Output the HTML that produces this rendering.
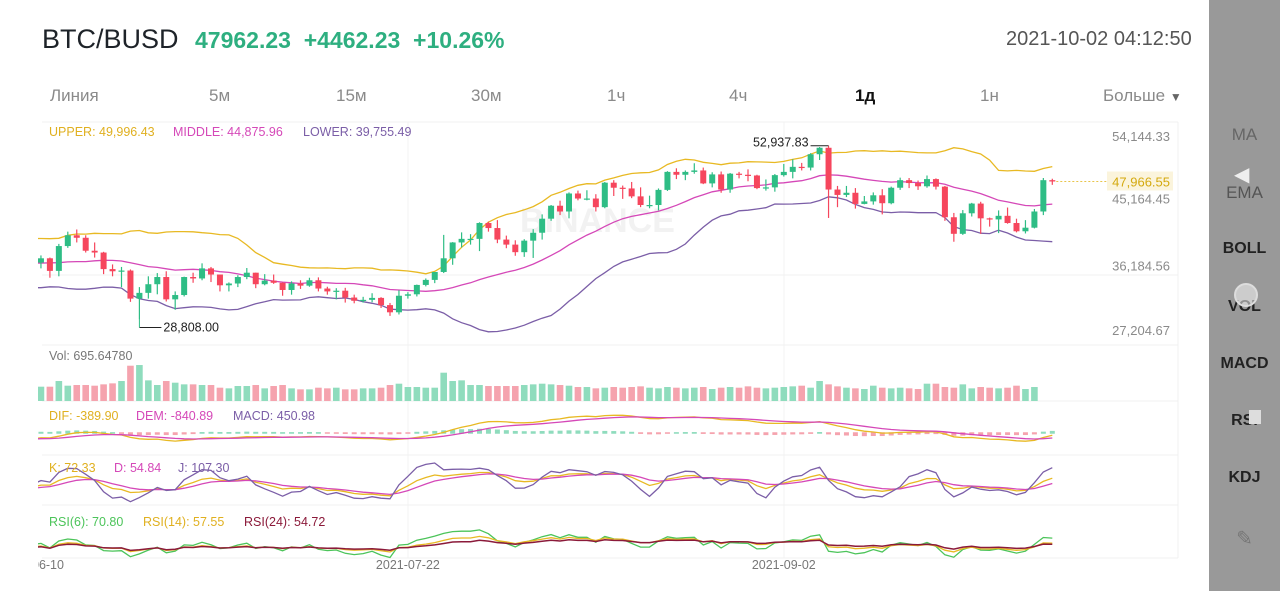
<!DOCTYPE html>
<html><head><meta charset="utf-8">
<style>
body{margin:0;width:1280px;height:591px;overflow:hidden;background:#fff;font-family:"Liberation Sans",sans-serif;position:relative}
.abs{position:absolute;white-space:nowrap}
.tab{position:absolute;top:86px;font-size:17px;color:#8a8a8a}
.side{position:absolute;left:1209px;top:0;width:71px;height:591px;background:#999}
.sl{position:absolute;width:71px;text-align:center;font-size:16px;color:#222;font-weight:bold}
</style></head><body>
<div class="abs" style="left:42px;top:24px;font-size:27px;color:#1e2329">BTC/BUSD</div>
<div class="abs" style="left:195px;top:27px;font-size:23px;color:#2eaf80;font-weight:bold">47962.23&nbsp; +4462.23&nbsp; +10.26%</div>
<div class="abs" style="left:1006px;top:28px;font-size:20px;color:#555">2021-10-02 04:12:50</div>
<svg class="abs" style="left:1218px;top:24px" width="28" height="28"><path d="M4 24 L11 17 M11 17 L5 17 M11 17 L11 23 M24 4 L17 11 M17 11 L23 11 M17 11 L17 5" stroke="#666" stroke-width="2" fill="none"/></svg>
<div class="tab" style="left:50px">Линия</div>
<div class="tab" style="left:209px">5м</div>
<div class="tab" style="left:336px">15м</div>
<div class="tab" style="left:471px">30м</div>
<div class="tab" style="left:607px">1ч</div>
<div class="tab" style="left:729px">4ч</div>
<div class="tab" style="left:855px;color:#111;font-weight:bold">1д</div>
<div class="tab" style="left:980px">1н</div>
<div class="tab" style="left:1103px">Больше <span style="font-size:12px;color:#666">▼</span></div>

<svg id="chart" class="abs" style="left:0;top:0" width="1209" height="591"></svg>

<div class="side">
<div class="sl" style="top:125px;color:#666;font-weight:normal;font-size:17px">MA</div>
<div class="abs" style="left:25px;top:162px;color:#eee;font-size:20px">◀</div>
<div class="sl" style="top:183px;color:#555;font-weight:normal;font-size:17px">EMA</div>
<div class="sl" style="top:240px">BOLL</div>
<div class="sl" style="top:298px">VOL</div>
<div class="abs" style="left:25px;top:283px;width:20px;height:20px;border-radius:50%;border:2px solid #ddd;background:rgba(255,255,255,.5)"></div>
<div class="sl" style="top:355px">MACD</div>
<div class="sl" style="top:412px">RSI</div>
<div class="abs" style="left:40px;top:410px;width:12px;height:14px;background:#ddd"></div>
<div class="sl" style="top:469px">KDJ</div>
<div class="sl" style="top:526px;color:#777;font-weight:normal;font-size:20px">✎</div>
</div>

<script>
const prior=[40600,37300,37500,34700,38700,38400,39300,38450,35700,34600,35650,37300,36700,37550,39200,36850,35500,35800,33550,33400,37350];
const closes=[36700,37300,35550,39000,40500,40150,38350,38100,35800,35500,35600,31700,32500,33700,34700,31600,32200,34700,34500,35900,35050,
33550,33800,34700,35300,33700,34200,33900,32900,33800,33500,34250,33100,32700,32800,31850,31400,31530,31800,30800,29800,32100,32300,33600,34300,35400,37300,39500,40000,40000,42200,41500,
39900,39200,38150,39750,40850,42800,44600,43800,46300,45600,45600,44400,47800,47100,47000,45900,44700,44700,46800,49300,48900,49300,49500,47700,48950,46850,49050,48900,48800,47050,47150,
48850,49300,50000,49900,51750,52650,46850,46100,46400,44850,45200,46050,44950,47100,48150,47750,47300,48300,47250,43000,40700,43550,44900,42850,42700,43200,42200,41050,41550,43800,
48150,47966];
const highs=[38400,37700,37400,39300,41000,41300,40500,39500,38200,36450,36100,35750,33300,34800,35250,35500,32700,34750,35300,36600,36100,
35050,33950,34950,35950,35300,35100,35050,33950,34100,34250,34600,34650,33350,33150,33200,32250,31950,32450,31900,31100,32850,32600,33650,34500,35400,40550,39550,40900,40650,42300,42400,
42600,40450,39800,39950,41350,43400,44700,45300,46450,46700,46750,46200,47900,48150,47400,47900,47150,46000,47000,49400,49800,49500,50500,49900,49250,49350,49150,49300,49650,48900,48250,
49000,50400,51050,50550,51900,52750,52937.83,47350,47350,47050,45950,46450,46900,47250,48500,48450,48100,48800,48400,47350,43600,44000,45000,45150,42950,43950,44350,42800,42600,44150,
48450,48350];
const lows=[35800,35900,34600,34800,38750,39500,38100,37400,35100,34800,33300,31250,28808,31700,32300,31300,30150,32000,33900,34250,34000,
32700,32700,33300,34400,33150,33550,33750,32100,32250,33050,33350,32700,32250,31600,31150,31050,31150,31200,30400,29300,29500,31700,32000,33400,33850,35250,36400,38800,39200,38300,41000,
39400,38700,37650,37500,37350,39900,42500,43300,42850,45350,45350,43800,44250,45950,45550,45650,44400,44250,43950,46650,48300,48150,49050,47600,47150,46400,46400,48400,48000,46900,46700,
46550,48650,48400,49500,49500,50950,42900,44400,45800,44200,44800,44750,43400,44800,46800,47050,46800,47100,46850,42500,39600,40550,43100,40700,41700,40800,42100,40900,40750,41450,
43300,47500];
const volumes=[45,43,43,60,46,48,48,46,50,53,60,106,108,62,48,60,55,50,50,48,48,40,38,45,45,48,38,45,48,38,35,35,40,38,40,35,35,38,38,40,48,52,42,42,40,40,85,60,62,48,48,
45,45,45,45,48,50,52,50,48,46,42,42,38,40,42,40,42,44,40,38,42,40,38,40,42,36,40,42,40,44,40,38,40,42,44,46,40,60,50,44,40,38,36,46,40,38,40,38,36,52,52,42,40,50,38,42,40,38,40,46,36,42];
const priceTicks=[54144.33,36184.56,27204.67];
const dateTicks=[{i:0,t:"2021-06-10"},{i:42,t:"2021-07-22"},{i:84,t:"2021-09-02"}];

const svg=document.getElementById('chart');
const NS='http://www.w3.org/2000/svg';
function mk(tag,attrs,parent){const e=document.createElementNS(NS,tag);for(const k in attrs)e.setAttribute(k,attrs[k]);(parent||svg).appendChild(e);return e;}
const X=i=>32+i*8.95;
const Y=p=>137+(54144.33-p)/138.87;
const GREEN='#2ebd85',RED='#f6465d';
const defs=mk('defs',{});const cp=mk('clipPath',{id:'cp'},defs);mk('rect',{x:38,y:115,width:1140,height:450},cp);

[122,275,345,401,455,505,558].forEach(y=>{const l=mk('line',{x1:42,x2:1178,y1:y,y2:y,stroke:'#f0f0f0'});});
[408,784].forEach(x=>{const l=mk('line',{x1:x,x2:x,y1:122,y2:558,stroke:'#f3f3f3'});});
mk('line',{x1:1178,x2:1178,y1:122,y2:558,stroke:'#f0f0f0'});
const wm=mk('text',{x:520,y:232,'font-size':34,'font-weight':'bold',fill:'#f2f2f2'});wm.textContent='BINANCE';


const g=mk('g',{'clip-path':'url(#cp)'});
const all=prior.concat(closes);const P=prior.length;
const up=[],mid=[],lo=[];
for(let j=19;j<all.length;j++){const s=all.slice(j-19,j+1);const m=s.reduce((a,b)=>a+b)/20;const sd=Math.sqrt(s.reduce((a,b)=>a+(b-m)*(b-m),0)/20);up[j]=m+2*sd;mid[j]=m;lo[j]=m-2*sd;}
function line(arr,yf,color,name,w){let d='';for(let j=0;j<all.length;j++){if(arr[j]===undefined)continue;const i=j-P;d+=(d?'L':'M')+X(i).toFixed(1)+' '+yf(arr[j]).toFixed(1);}const p=mk('path',{d:d,fill:'none',stroke:color,'stroke-width':w||1.3},g);}
line(up,Y,'#e8b923','boll-upper');line(mid,Y,'#d548b8','boll-middle');line(lo,Y,'#7b5ea7','boll-lower');
for(let i=0;i<closes.length;i++){const o=i==0?prior[P-1]:closes[i-1];const c=closes[i];const col=c>=o?GREEN:RED;
const w=mk('line',{x1:X(i),x2:X(i),y1:Y(highs[i]),y2:Y(lows[i]),stroke:col,'stroke-width':1.2},g);
const top=Y(Math.max(o,c)),h=Math.max(1.2,Math.abs(Y(o)-Y(c)));
const r=mk('rect',{x:X(i)-3,y:top,width:6,height:h,fill:col},g);
const vb=mk('rect',{x:X(i)-3.3,y:401-volumes[i]*0.333,width:6.6,height:volumes[i]*0.333,fill:c>=o?'#8fdcbd':'#f5a3ae'},g);}
function ema(arr,n){const k=2/(n+1);const r=[arr[0]];for(let j=1;j<arr.length;j++)r.push(arr[j]*k+r[j-1]*(1-k));return r;}
const e12=ema(all,12),e26=ema(all,26);const dif=all.map((_,j)=>e12[j]-e26[j]);const dea=ema(dif,9);
const MY=v=>433-v*0.006;
for(let j=P;j<all.length;j++){const m=(dif[j]-dea[j])*2;const hh=Math.min(4,Math.abs(m)*0.0015)+1.5;const b=mk('rect',{x:X(j-P)-2.5,y:m>=0?433-hh+0.75:432.25,width:5,height:hh,fill:m>=0?'#8fdcbd':'#f5a3ae'},g);}
const difv=dif.map((v,j)=>j<P-5?undefined:v),deav=dea.map((v,j)=>j<P-5?undefined:v);
line(difv,MY,'#e8b923','macd-dif');line(deav,MY,'#d548b8','macd-dea');
const K=[],D=[],J=[];let k=50,d=50;
for(let j=0;j<all.length;j++){let hh=-1e9,ll=1e9;for(let t=Math.max(0,j-8);t<=j;t++){const hv=t>=P?highs[t-P]:all[t]*1.02,lv=t>=P?lows[t-P]:all[t]*0.98;hh=Math.max(hh,hv);ll=Math.min(ll,lv);}
const rsv=hh>ll?(all[j]-ll)/(hh-ll)*100:50;k=2/3*k+rsv/3;d=2/3*d+k/3;K.push(j<P-5?undefined:k);D.push(j<P-5?undefined:d);J.push(j<P-5?undefined:3*k-2*d);}
const KY=v=>500-v*0.3;
line(K,KY,'#e8b923','kdj-k');line(D,KY,'#d548b8','kdj-d');line(J,KY,'#7b5ea7','kdj-j');
function rsi(n){const r=[];let ag=0,al=0;for(let j=1;j<all.length;j++){const ch=all[j]-all[j-1];const gn=Math.max(ch,0),ls=Math.max(-ch,0);ag=(ag*(n-1)+gn)/n;al=(al*(n-1)+ls)/n;r[j]=j<P-5?undefined:(al==0?100:100-100/(1+ag/al));}return r;}
const RY=v=>565-v*0.38;
line(rsi(6),RY,'#4cc45a','rsi-6');line(rsi(14),RY,'#e8b923','rsi-14');line(rsi(24),RY,'#8b1a3a','rsi-24',1.5);

function txt(x,y,s,fill,size,name,anchor){const t=mk('text',{x:x,y:y,fill:fill,'font-size':size,'text-anchor':anchor||'start'});t.textContent=s;return t;}
txt(49,136,'UPPER: 49,996.43','#e0b020',12.5,'boll-upper-legend');txt(173,136,'MIDDLE: 44,875.96','#d548b8',12.5,'boll-middle-legend');txt(303,136,'LOWER: 39,755.49','#7b5ea7',12.5,'boll-lower-legend');
txt(49,360,'Vol: 695.64780','#777',12.5,'vol-legend');
txt(49,420,'DIF: -389.90','#e0b020',12.5,'dif-legend');txt(136,420,'DEM: -840.89','#d548b8',12.5,'dem-legend');txt(233,420,'MACD: 450.98','#7b5ea7',12.5,'macd-legend');
txt(49,472,'K: 72.33','#e0b020',12.5,'k-legend');txt(114,472,'D: 54.84','#d548b8',12.5,'d-legend');txt(178,472,'J: 107.30','#7b5ea7',12.5,'j-legend');
txt(49,526,'RSI(6): 70.80','#4cc45a',12.5,'rsi6-legend');txt(143,526,'RSI(14): 57.55','#e0b020',12.5,'rsi14-legend');txt(244,526,'RSI(24): 54.72','#8b1a3a',12.5,'rsi24-legend');
priceTicks.forEach(p=>txt(1170,Y(p)+4,p.toLocaleString('en-US',{minimumFractionDigits:2}),'#8a8a8a',13,'price-tick','end'));
txt(1170,Y(45164.45)+2,'45,164.45','#8a8a8a',13,'price-tick','end');
const last=closes[closes.length-1];
mk('line',{x1:X(closes.length-1)+4,x2:1108,y1:Y(last),y2:Y(last),stroke:'#e8c44a','stroke-dasharray':'2,2'});
const lb=mk('rect',{x:1107,y:Y(last)-10,width:66,height:19,fill:'#fbf4dc'});
txt(1170,Y(last)+5,'47,966.55','#d4a90e',13,'last-price-label','end');
dateTicks.forEach(t=>txt(X(t.i),569,t.t,'#777',12.5,'date-tick','middle'));
mk('rect',{x:0,y:558,width:38,height:20,fill:'#fff'});
let hi=0,li=0;highs.forEach((v,i)=>{if(v>highs[hi])hi=i;});lows.forEach((v,i)=>{if(v<lows[li])li=i;});
mk('line',{x1:X(hi)-18,x2:X(hi),y1:Y(highs[hi]),y2:Y(highs[hi]),stroke:'#222'});
txt(X(hi)-20,Y(highs[hi])+1,highs[hi].toLocaleString('en-US',{minimumFractionDigits:2}),'#222',12.5,'high-annotation','end');
mk('line',{x1:X(li),x2:X(li)+22,y1:Y(lows[li])+8,y2:Y(lows[li])+8,stroke:'#222'});
mk('line',{x1:X(li),x2:X(li),y1:Y(lows[li]),y2:Y(lows[li])+8,stroke:'#2ebd85'});
txt(X(li)+24,Y(lows[li])+12,lows[li].toLocaleString('en-US',{minimumFractionDigits:2}),'#222',12.5,'low-annotation');
</script>
</body></html>
